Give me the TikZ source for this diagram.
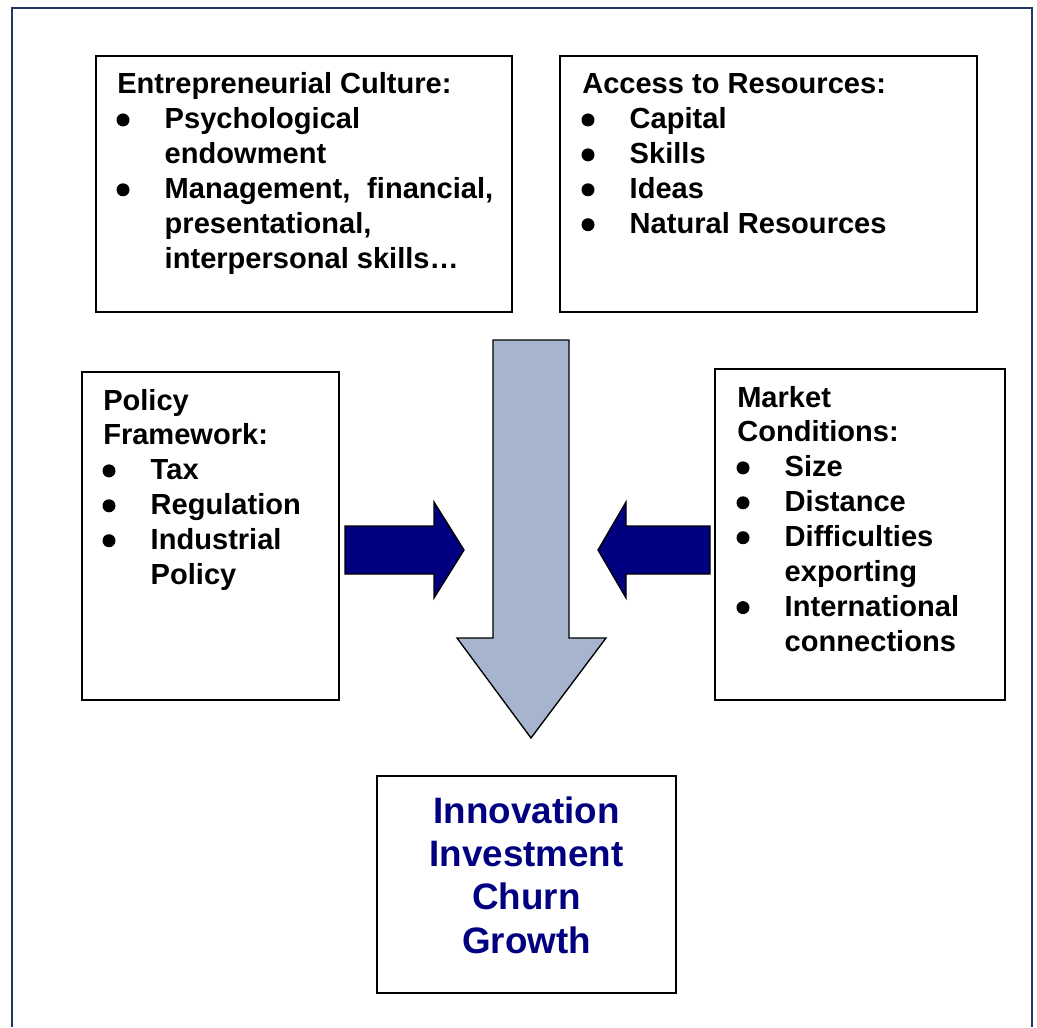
\documentclass[tikz,border=0pt]{standalone}
\usepackage{fontspec}
\setmainfont{Liberation Sans}
\definecolor{framecol}{RGB}{31,56,100}
\definecolor{shaftcol}{RGB}{167,180,206}
\definecolor{navyfill}{RGB}{0,0,128}
% space reserved for a list bullet (bullets are drawn in the picture)
\newcommand\itembul{\hspace*{35.6pt}}
\newcommand\itemind{\hspace*{35.6pt}}
\newcommand\bodyfont{\fontsize{21.8pt}{26.2pt}\selectfont\bfseries}
\newcommand\headfont{\fontsize{27.6pt}{32.6pt}\selectfont\bfseries}
% line pitch of the body text in picture units (26.2pt / 0.75pt)
\newcommand\pitch{34.933}
\begin{document}
\begin{tikzpicture}[x=0.75pt,y=-0.75pt,
  frameline/.style={draw=framecol,line width=1.5pt},
  boxline/.style={draw=black,line width=1.5pt},
  blockarrow/.style={draw=black,line width=1pt,line join=miter},
  bulletdot/.style={fill=black},
  txt/.style={anchor=base west,inner sep=0pt,font=\bodyfont},
  headtxt/.style={anchor=base,inner sep=0pt,font=\headfont,text=navyfill}]
\useasboundingbox (0,0) rectangle (1037,1027);
\fill[white] (0,0) rectangle (1037,1027);

% outer frame, open at the bottom
\draw[frameline] (12,1027) -- (12,8) -- (1032,8) -- (1032,1027);

% boxes
\draw[boxline] (96,56) rectangle (512,312);
\draw[boxline] (560,56) rectangle (977,312);
\draw[boxline] (82,372) rectangle (339,700);
\draw[boxline] (715,369) rectangle (1005,700);
\draw[boxline] (377,776) rectangle (676,993);

% central downward arrow
\draw[blockarrow,fill=shaftcol] (493,340) -- (569,340) -- (569,638) -- (606,638)
  -- (531,738) -- (457,638) -- (493,638) -- cycle;
% side arrows
\draw[blockarrow,fill=navyfill] (345,526) -- (434,526) -- (434,502) -- (464,550)
  -- (434,598) -- (434,574) -- (345,574) -- cycle;
\draw[blockarrow,fill=navyfill] (710,526) -- (626,526) -- (626,502) -- (598,550)
  -- (626,598) -- (626,574) -- (710,574) -- cycle;

% texts
\node[txt] (culture) at (117,94) {\parbox[t]{420pt}{%
  Entrepreneurial Culture:\\
  \itembul Psychological\\
  \itemind endowment\\
  \itembul Management,\hspace{0.3em} financial,\\
  \itemind presentational,\\
  \itemind interpersonal skills…}};
\node[txt] (resources) at (582,94) {\parbox[t]{420pt}{%
  Access to Resources:\\
  \itembul Capital\\
  \itembul Skills\\
  \itembul Ideas\\
  \itembul Natural Resources}};
\node[txt] (policy) at (103,410) {\parbox[t]{420pt}{%
  Policy\\
  Framework:\\
  \itembul Tax\\
  \itembul Regulation\\
  \itembul Industrial\\
  \itemind Policy}};
\node[txt] (market) at (737,407) {\parbox[t]{420pt}{%
  Market\\
  Conditions:\\
  \itembul Size\\
  \itembul Distance\\
  \itembul Difficulties\\
  \itemind exporting\\
  \itembul International\\
  \itemind connections}};
\node[headtxt] (outcome) at (526.5,823) {\parbox[t]{300pt}{\centering
  Innovation\\
  Investment\\
  Churn\\
  Growth}};

% list bullets, centred 9 units above each bulleted baseline
\foreach \n in {1,3}   \fill[bulletdot] (123,{94+\n*\pitch-9}) circle (6.5);
\foreach \n in {1,...,4} \fill[bulletdot] (588,{94+\n*\pitch-9}) circle (6.5);
\foreach \n in {2,3,4} \fill[bulletdot] (109,{410+\n*\pitch-9}) circle (6.5);
\foreach \n in {2,3,4,6} \fill[bulletdot] (743,{407+\n*\pitch-9}) circle (6.5);
\end{tikzpicture}
\end{document}
